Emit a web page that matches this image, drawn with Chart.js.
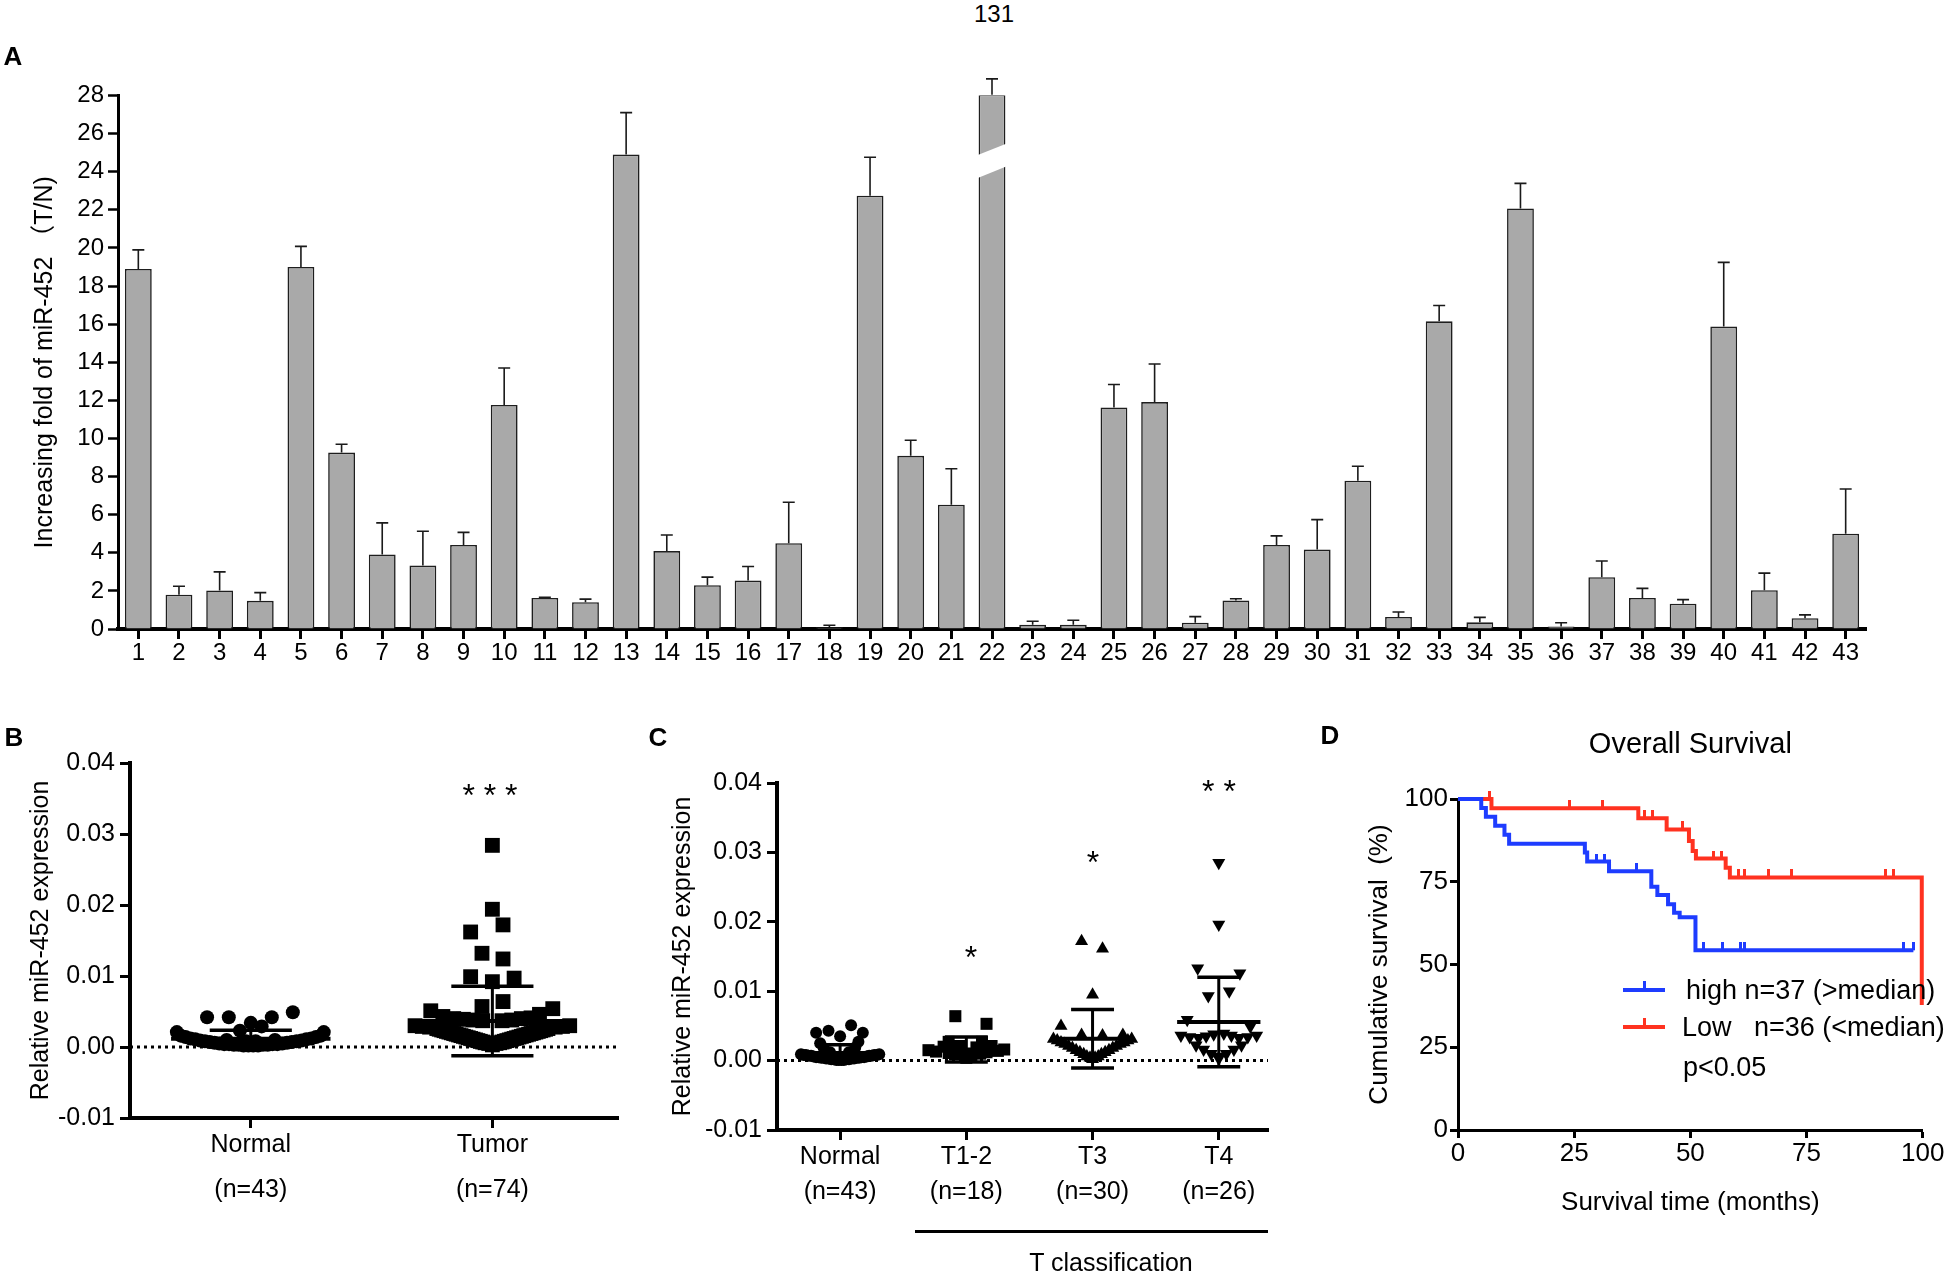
<!DOCTYPE html>
<html>
<head>
<meta charset="utf-8">
<title>miR-452 figure</title>
<script src="https://cdn.jsdelivr.net/npm/chart.js@4.4.1/dist/chart.umd.min.js"></script>
<style>
  html, body { margin: 0; padding: 0; background: #fff; }
  body { position: relative; width: 1946px; height: 1275px; overflow: hidden;
         font-family: "Liberation Sans", Arial, "Noto Sans CJK SC", sans-serif; color: #000; }
  canvas { position: absolute; }
  .lbl { position: absolute; white-space: pre; line-height: 1; transform: translate(-50%, -50%); }
  .lft { transform: translate(0, -50%); }
  .panel { font-weight: bold; font-size: 26px; }
  .star { font-size: 32px; }
  .bar { position: absolute; }
</style>
</head>
<body>
<canvas id="chartA" width="1946" height="630" style="left:0;top:70px"></canvas>
<canvas id="chartB" width="650" height="575" style="left:0;top:700px"></canvas>
<canvas id="chartC" width="650" height="575" style="left:650px;top:700px"></canvas>
<canvas id="chartD" width="646" height="575" style="left:1300px;top:700px"></canvas>

<div class="lbl" style="left:994px;top:14px;font-size:24px">131</div>
<div class="lbl panel" style="left:13px;top:56px">A</div>
<div class="lbl panel" style="left:14px;top:737px">B</div>
<div class="lbl panel" style="left:658px;top:737px">C</div>
<div class="lbl panel" style="left:1330px;top:735px">D</div>

<div class="lbl star" style="left:490px;top:795px">* * *</div>
<div class="lbl star" style="left:971px;top:957px">*</div>
<div class="lbl star" style="left:1093px;top:862px">*</div>
<div class="lbl star" style="left:1219px;top:791px">* *</div>

<div class="bar" style="left:915px;top:1230px;width:353px;height:3px;background:#000"></div>
<div class="lbl" style="left:1111px;top:1262px;font-size:25px">T classification</div>

<div class="bar" style="left:1623px;top:988px;width:42px;height:4px;background:#1e3cff"></div>
<div class="bar" style="left:1643px;top:981px;width:3px;height:8px;background:#1e3cff"></div>
<div class="bar" style="left:1623px;top:1025px;width:42px;height:4px;background:#ff3220"></div>
<div class="bar" style="left:1643px;top:1018px;width:3px;height:8px;background:#ff3220"></div>
<div class="lbl lft" style="left:1686px;top:990px;font-size:27px">high n=37 (&gt;median)</div>
<div class="lbl lft" style="left:1682px;top:1027px;font-size:27px">Low   n=36 (&lt;median)</div>
<div class="lbl lft" style="left:1683px;top:1067px;font-size:27px">p&lt;0.05</div>

<script>
// ---- Panel A: fold change per patient ----
const patientIds = ['1','2','3','4','5','6','7','8','9','10','11','12','13','14','15','16','17','18','19','20','21','22',
  '23','24','25','26','27','28','29','30','31','32','33','34','35','36','37','38','39','40','41','42','43'];
const foldMeans = [18.9, 1.8, 2.02, 1.48, 19.0, 9.26, 3.91, 3.33, 4.41, 11.76, 1.63, 1.41, 24.9, 4.09, 2.3, 2.54,
  4.5, 0.09, 22.74, 9.09, 6.52, 28.04, 0.22, 0.22, 11.63, 11.91, 0.33, 1.5, 4.41, 4.17, 7.78, 0.63, 16.15, 0.35,
  22.07, 0.13, 2.72, 1.63, 1.33, 15.87, 2.04, 0.57, 5.0];
const foldErrors = [1.0, 0.44, 0.98, 0.43, 1.08, 0.44, 1.66, 1.8, 0.66, 1.94, 0.04, 0.16, 2.2, 0.84, 0.42, 0.74,
  2.15, 0.11, 2.02, 0.82, 1.89, 0.83, 0.19, 0.24, 1.2, 2.0, 0.32, 0.09, 0.48, 1.57, 0.76, 0.26, 0.83, 0.26,
  1.32, 0.2, 0.85, 0.5, 0.21, 3.37, 0.89, 0.17, 2.35];
const brokenBar = 21;            // patient 22 has a broken bar
const breakLow = [23.65, 24.3];  // lower edge of the gap, left / right side
const breakHigh = [24.85, 25.5]; // upper edge of the gap

// ---- Panel B: normal vs tumor ----
const groupLabelsB = ['Normal', 'Tumor'];
const groupCountsB = ['(n=43)', '(n=74)'];
const normalOffsetB = [-0.181, -0.091, -0.045, 0, 0.045, 0.087, 0.174, -0.306, 0.302,
  -0.29, -0.27, -0.25, -0.23, -0.21, -0.19, -0.17, -0.15, -0.13, -0.11, -0.09, -0.07, -0.05, -0.03, -0.01,
  0.01, 0.03, 0.05, 0.07, 0.09, 0.11, 0.13, 0.15, 0.17, 0.19, 0.21, 0.23, 0.25, 0.27, 0.29, -0.02, 0.02, -0.1, 0.1];
const normalValB = [0.0042, 0.0042, 0.0023, 0.0034, 0.0029, 0.0042, 0.0049, 0.0021, 0.0021,
  0.0016, 0.0014, 0.0012, 0.0011, 0.0009, 0.0008, 0.0007, 0.0006, 0.0005, 0.0004, 0.0004, 0.0003, 0.0003, 0.0002, 0.0002,
  0.0002, 0.0002, 0.0003, 0.0003, 0.0004, 0.0004, 0.0005, 0.0006, 0.0007, 0.0008, 0.0009, 0.0011, 0.0012, 0.0014, 0.0016,
  0.0008, 0.0008, 0.001, 0.001];
const tumorOffsetB = [0, 0, 0.044, -0.09, -0.043, 0.044, -0.09, 0, 0.09, 0.044, -0.043, -0.255, 0.25, -0.205, 0.195,
  -0.16, -0.12, -0.08, -0.04, 0.04, 0.08, 0.12, 0.16,
  -0.32, -0.29, -0.26, 0.26, 0.29, 0.32,
  -0.23, -0.22, -0.21, -0.2, -0.19, -0.18, -0.17, -0.16, -0.15, -0.14, -0.13, -0.12, -0.11, -0.1, -0.09, -0.08,
  -0.07, -0.06, -0.05, -0.04, -0.03, -0.015, 0, 0.015, 0.03, 0.04, 0.05, 0.06, 0.07, 0.08, 0.09, 0.1, 0.11, 0.12,
  0.13, 0.14, 0.15, 0.16, 0.17, 0.18, 0.19, 0.2, 0.21, 0.22, 0.23];
const tumorValB = [0.0284, 0.0194, 0.0172, 0.0162, 0.0132, 0.0124, 0.0099, 0.0092, 0.0097, 0.0064, 0.0057, 0.0051, 0.0054, 0.0043, 0.0046,
  0.004, 0.0039, 0.0038, 0.0037, 0.0037, 0.0038, 0.004, 0.0041,
  0.003, 0.0029, 0.0028, 0.0028, 0.0029, 0.003,
  0.0026, 0.0025, 0.0024, 0.0023, 0.0022, 0.0021, 0.002, 0.0019, 0.0018, 0.0017, 0.0016, 0.0015, 0.0014, 0.0013, 0.0012, 0.0011,
  0.001, 0.0009, 0.0008, 0.0007, 0.0006, 0.0005, 0.0003, 0.0005, 0.0006, 0.0007, 0.0008, 0.0009, 0.001, 0.0011, 0.0012, 0.0013,
  0.0014, 0.0015, 0.0016, 0.0017, 0.0018, 0.0019, 0.002, 0.0021, 0.0022, 0.0023, 0.0024, 0.0025, 0.0026];
const groupMeansB = [0.00117, 0.00366];
const groupSdB = [0.00118, 0.0049];

// ---- Panel C: by T classification ----
const groupLabelsC = ['Normal', 'T1-2', 'T3', 'T4'];
const groupCountsC = ['(n=43)', '(n=18)', '(n=30)', '(n=26)'];
const normalOffsetC = [-0.19, -0.092, 0, 0.087, 0.18, -0.158, 0.145, -0.13, 0.12, -0.08, 0.07,
  -0.31, -0.29, -0.27, -0.25, -0.23, -0.21, -0.19, -0.17, -0.15, -0.13, -0.11, -0.09, -0.07, -0.05, -0.03, -0.01,
  0.01, 0.03, 0.05, 0.07, 0.09, 0.11, 0.13, 0.15, 0.17, 0.19, 0.21, 0.23, 0.25, 0.27, 0.29, 0.31];
const normalValC = [0.004, 0.0043, 0.0035, 0.0051, 0.004, 0.0025, 0.0027, 0.0018, 0.0019, 0.0012, 0.0012,
  0.0009, 0.0008, 0.0008, 0.0007, 0.0007, 0.0006, 0.0005, 0.0005, 0.0004, 0.0004, 0.0003, 0.0003, 0.0002, 0.0002, 0.0001, 0.0001,
  0.0001, 0.0001, 0.0002, 0.0002, 0.0003, 0.0003, 0.0004, 0.0004, 0.0005, 0.0005, 0.0006, 0.0007, 0.0007, 0.0008, 0.0008, 0.0009];
const t12OffsetC = [-0.087, 0.16, -0.14, 0.124, -0.3, -0.24, -0.18, -0.14, -0.09, -0.05, 0, 0.04, 0.08, 0.11, 0.16, 0.2, 0.25, 0.3];
const t12ValC = [0.0064, 0.0053, 0.0027, 0.0027, 0.0015, 0.0013, 0.002, 0.0011, 0.0009, 0.0021, 0.0004, 0.0007, 0.0019, 0.001, 0.0012, 0.0021, 0.0014, 0.0016];
const t3OffsetC = [-0.087, 0.079, 0, -0.25, -0.087, 0.079, 0.24,
  -0.31, -0.28, -0.25, -0.22, -0.19, -0.16, -0.13, -0.1, -0.07, -0.045, -0.02, 0, 0.02, 0.045, 0.07, 0.1, 0.13, 0.16, 0.19, 0.22, 0.25, 0.28, 0.31];
const t3ValC = [0.0172, 0.0161, 0.0095, 0.005, 0.0037, 0.0036, 0.0037,
  0.0031, 0.0029, 0.0026, 0.0024, 0.0021, 0.0018, 0.0015, 0.0012, 0.0009, 0.0006, 0.0004, 0.0002, 0.0004, 0.0006, 0.0009, 0.0012, 0.0015, 0.0018, 0.0021, 0.0024, 0.0026, 0.0029, 0.0031];
const t4OffsetC = [0, 0, -0.167, 0.167, -0.083, 0.083, -0.25, 0.25,
  -0.3, -0.23, -0.16, -0.1, -0.04, 0.04, 0.1, 0.16, 0.23, 0.3,
  -0.18, 0.18, -0.12, 0.12, -0.06, 0.06, 0, 0];
const t4ValC = [0.0285, 0.0196, 0.0133, 0.0126, 0.0093, 0.01, 0.0059, 0.0049,
  0.0036, 0.0034, 0.0033, 0.0035, 0.0038, 0.0039, 0.0036, 0.0033, 0.0034, 0.0036,
  0.0022, 0.0022, 0.0016, 0.0016, 0.001, 0.001, 0.0003, 0.0006];
const groupMeansC = [0.0011, 0.0016, 0.00315, 0.00555];
const groupSdC = [0.0012, 0.0018, 0.0042, 0.00645];

// ---- Panel D: Kaplan-Meier ----
const highTimes = [0, 5, 6, 8, 10, 11, 27.3, 27.8, 29.8, 31.6, 32.5, 38.4, 41.6, 42.9, 45.2, 46.5, 47.7, 51.1, 52.8, 56.9, 60.8, 61.7, 95.8, 98.0];
const highSurv = [100, 97.3, 94.6, 91.9, 89.2, 86.5, 83.8, 81.1, 81.1, 81.1, 78.2, 78.2, 73.5, 71.0, 68.2, 65.6, 64.3, 54.3, 54.3, 54.3, 54.3, 54.3, 54.3, 54.3];
const highCensored = [0, 0, 0, 0, 0, 0, 0, 0, 1, 1, 0, 1, 0, 0, 0, 0, 0, 0, 1, 1, 1, 1, 1, 1];
const lowTimes = [0, 6.8, 7.2, 24.1, 31.0, 38.8, 40.2, 41.9, 44.9, 48.3, 49.7, 50.5, 51.2, 54.9, 56.7, 57.6, 58.5, 60.3, 61.7, 66.8, 71.8, 91.9, 93.7, 99.8];
const lowSurv = [100, 100, 97.2, 97.2, 97.2, 94.2, 94.2, 94.2, 90.8, 90.8, 87.3, 84.3, 82.0, 82.0, 82.0, 79.2, 76.3, 76.3, 76.3, 76.3, 76.3, 76.3, 76.3, 37.8];
const lowCensored = [0, 1, 0, 1, 1, 0, 1, 1, 0, 1, 0, 0, 0, 1, 1, 0, 0, 1, 1, 1, 1, 1, 1, 0];

const BLUE = '#1e3cff';
const RED = '#ff3220';

Chart.defaults.font.family = '"Liberation Sans", Arial, "Noto Sans CJK SC", sans-serif';
Chart.defaults.color = '#000';
Chart.defaults.animation = false;
Chart.defaults.events = [];
Chart.defaults.plugins.legend.display = false;
Chart.defaults.plugins.tooltip.enabled = false;

function tickGrid(len, width) {
  return { drawOnChartArea: false, drawTicks: true, tickLength: len, tickWidth: width, tickColor: '#000' };
}

function toPoints(center, offsets, values) {
  return offsets.map((o, i) => ({ x: center + o, y: values[i] }));
}

// censor marker: small vertical tick sitting on top of the curve
function censorMark(color) {
  const c = document.createElement('canvas');
  c.width = 3; c.height = 16;
  const g = c.getContext('2d');
  g.fillStyle = color;
  g.fillRect(0, 0, 3, 8);
  return c;
}

const errorBars = {
  id: 'errorBars',
  afterDatasetsDraw(chart) {
    const { ctx, scales: { y } } = chart;
    const meta = chart.getDatasetMeta(0);
    ctx.save();
    ctx.strokeStyle = '#1a1a1a';
    ctx.lineWidth = 1.6;
    meta.data.forEach((bar, i) => {
      const top = y.getPixelForValue(foldMeans[i] + foldErrors[i]);
      ctx.beginPath();
      ctx.moveTo(bar.x, bar.y);
      ctx.lineTo(bar.x, top);
      ctx.moveTo(bar.x - 6, top);
      ctx.lineTo(bar.x + 6, top);
      ctx.stroke();
    });
    // white slanted gap for the axis break on patient 22
    const b = meta.data[brokenBar];
    const half = b.width / 2 + 2;
    ctx.fillStyle = '#fff';
    ctx.beginPath();
    ctx.moveTo(b.x - half, y.getPixelForValue(breakLow[0]));
    ctx.lineTo(b.x + half, y.getPixelForValue(breakLow[1]));
    ctx.lineTo(b.x + half, y.getPixelForValue(breakHigh[1]));
    ctx.lineTo(b.x - half, y.getPixelForValue(breakHigh[0]));
    ctx.closePath();
    ctx.fill();
    ctx.restore();
  }
};

function meanSd(means, sds) {
  return {
    id: 'meanSd',
    afterDatasetsDraw(chart) {
      const { ctx, scales: { x, y } } = chart;
      const seg = (x1, y1, x2, y2) => { ctx.beginPath(); ctx.moveTo(x1, y1); ctx.lineTo(x2, y2); ctx.stroke(); };
      ctx.save();
      ctx.strokeStyle = '#000';
      means.forEach((m, i) => {
        const c = i + 1;
        const ym = y.getPixelForValue(m);
        const yt = y.getPixelForValue(m + sds[i]);
        const yb = y.getPixelForValue(m - sds[i]);
        ctx.lineWidth = 4;
        seg(x.getPixelForValue(c - 0.33), ym, x.getPixelForValue(c + 0.33), ym);
        ctx.lineWidth = 3;
        seg(x.getPixelForValue(c), yt, x.getPixelForValue(c), yb);
        ctx.lineWidth = 3.5;
        seg(x.getPixelForValue(c - 0.17), yt, x.getPixelForValue(c + 0.17), yt);
        seg(x.getPixelForValue(c - 0.17), yb, x.getPixelForValue(c + 0.17), yb);
      });
      ctx.restore();
    }
  };
}

// ---- chart A ----
new Chart(document.getElementById('chartA'), {
  type: 'bar',
  data: {
    labels: patientIds,
    datasets: [{
      data: foldMeans,
      backgroundColor: '#a9a9a9',
      borderColor: '#1e1e1e',
      borderWidth: 1.6,
      barPercentage: 0.66,
      categoryPercentage: 1
    }]
  },
  options: {
    responsive: false,
    devicePixelRatio: 1,
    layout: { padding: { left: 18, right: 80, top: 25.5, bottom: 21 } },
    scales: {
      x: {
        grid: Object.assign(tickGrid(10, 3), { offset: false }),
        border: { color: '#000', width: 4 },
        ticks: { font: { size: 24 }, padding: 0, maxRotation: 0, autoSkip: false },
        afterFit: s => { s.height = 50; }
      },
      y: {
        min: 0, max: 28,
        ticks: { stepSize: 2, font: { size: 24 }, padding: 4 },
        grid: tickGrid(10, 2.5),
        border: { color: '#000', width: 3 },
        title: { display: true, text: 'Increasing fold of miR-452 （T/N)', font: { size: 25 }, padding: { top: 12, bottom: 0 } },
        afterFit: s => { s.width = 100; }
      }
    }
  },
  plugins: [errorBars]
});

// ---- chart B ----
new Chart(document.getElementById('chartB'), {
  type: 'scatter',
  data: {
    datasets: [
      { type: 'line', data: [{ x: 0.5, y: 0 }, { x: 2.52, y: 0 }], borderColor: '#000', borderWidth: 3,
        borderDash: [3, 4], pointRadius: 0, order: 10 },
      { data: toPoints(1, normalOffsetB, normalValB), pointStyle: 'circle', pointRadius: 7,
        backgroundColor: '#000', borderWidth: 0 },
      { data: toPoints(2, tumorOffsetB, tumorValB), pointStyle: 'rect', pointRadius: 10.5,
        backgroundColor: '#000', borderWidth: 0 }
    ]
  },
  options: {
    responsive: false,
    devicePixelRatio: 1,
    layout: { padding: { left: 20, right: 32, top: 63, bottom: 47 } },
    scales: {
      x: {
        type: 'linear', min: 0.5, max: 2.52,
        afterBuildTicks: s => { s.ticks = [{ value: 1 }, { value: 2 }]; },
        ticks: { callback: (v, i) => [groupLabelsB[i], groupCountsB[i]], font: { size: 25, lineHeight: 1.8 }, padding: -5.5 },
        grid: tickGrid(10, 3),
        border: { color: '#000', width: 4 },
        afterFit: s => { s.height = 110; }
      },
      y: {
        min: -0.01, max: 0.04,
        ticks: { stepSize: 0.01, callback: v => v.toFixed(2), font: { size: 25 }, padding: 5 },
        grid: tickGrid(10, 3),
        border: { color: '#000', width: 4 },
        title: { display: true, text: 'Relative miR-452 expression', font: { size: 25 }, padding: { top: 6, bottom: 0 } },
        afterFit: s => { s.width = 110; }
      }
    }
  },
  plugins: [meanSd(groupMeansB, groupSdB)]
});

// ---- chart C ----
new Chart(document.getElementById('chartC'), {
  type: 'scatter',
  data: {
    datasets: [
      { type: 'line', data: [{ x: 0.5, y: 0 }, { x: 4.39, y: 0 }], borderColor: '#000', borderWidth: 3,
        borderDash: [3, 4], pointRadius: 0, order: 10 },
      { data: toPoints(1, normalOffsetC, normalValC), pointStyle: 'circle', pointRadius: 6,
        backgroundColor: '#000', borderWidth: 0 },
      { data: toPoints(2, t12OffsetC, t12ValC), pointStyle: 'rect', pointRadius: 8.5,
        backgroundColor: '#000', borderWidth: 0 },
      { data: toPoints(3, t3OffsetC, t3ValC), pointStyle: 'triangle', pointRadius: 7.5,
        backgroundColor: '#000', borderWidth: 0 },
      { data: toPoints(4, t4OffsetC, t4ValC), pointStyle: 'triangle', rotation: 180, pointRadius: 7.5,
        backgroundColor: '#000', borderWidth: 0 }
    ]
  },
  options: {
    responsive: false,
    devicePixelRatio: 1,
    layout: { padding: { left: 17, right: 32, top: 83, bottom: 25 } },
    scales: {
      x: {
        type: 'linear', min: 0.5, max: 4.39,
        afterBuildTicks: s => { s.ticks = [{ value: 1 }, { value: 2 }, { value: 3 }, { value: 4 }]; },
        ticks: { callback: (v, i) => [groupLabelsC[i], groupCountsC[i]], font: { size: 25, lineHeight: 1.4 }, padding: -0.5 },
        grid: tickGrid(10, 3),
        border: { color: '#000', width: 4 },
        afterFit: s => { s.height = 120; }
      },
      y: {
        min: -0.01, max: 0.04,
        ticks: { stepSize: 0.01, callback: v => v.toFixed(2), font: { size: 25 }, padding: 5 },
        grid: tickGrid(10, 3),
        border: { color: '#000', width: 4 },
        title: { display: true, text: 'Relative miR-452 expression', font: { size: 25 }, padding: { top: 1, bottom: 0 } },
        afterFit: s => { s.width = 110; }
      }
    }
  },
  plugins: [meanSd(groupMeansC, groupSdC)]
});

// ---- chart D ----
function kmSeries(times, surv) {
  return times.map((t, i) => ({ x: t, y: surv[i] }));
}
new Chart(document.getElementById('chartD'), {
  type: 'line',
  data: {
    datasets: [
      { label: 'high n=37 (>median)', data: kmSeries(highTimes, highSurv), stepped: true, borderColor: BLUE,
        borderWidth: 4, fill: false, pointStyle: censorMark(BLUE), pointRadius: highCensored.map(c => c ? 5 : 0),
        clip: false, order: 0 },
      { label: 'Low n=36 (<median)', data: kmSeries(lowTimes, lowSurv), stepped: true, borderColor: RED,
        borderWidth: 4, fill: false, pointStyle: censorMark(RED), pointRadius: lowCensored.map(c => c ? 5 : 0),
        clip: false, order: 1 }
    ]
  },
  options: {
    responsive: false,
    devicePixelRatio: 1,
    layout: { padding: { left: 50, right: 23.3, top: 10, bottom: 45 } },
    plugins: {
      title: { display: true, text: 'Overall Survival', fullSize: false, font: { size: 29, weight: 'normal' },
        color: '#000', padding: { top: 17.6, bottom: 36.6 } }
    },
    scales: {
      x: {
        type: 'linear', min: 0, max: 100,
        ticks: { stepSize: 25, font: { size: 26 }, padding: 0 },
        grid: tickGrid(8, 3),
        border: { color: '#000', width: 3 },
        title: { display: true, text: 'Survival time (months)', font: { size: 26 }, padding: { top: 0, bottom: 11.4 } },
        afterFit: s => { s.height = 100; }
      },
      y: {
        min: 0, max: 100,
        ticks: { stepSize: 25, font: { size: 26 }, padding: 2 },
        grid: tickGrid(8, 3),
        border: { color: '#000', width: 3 },
        title: { display: true, text: 'Cumulative survival  (%)', font: { size: 26 }, padding: { top: 14.4, bottom: 0 } },
        afterFit: s => { s.width = 108; }
      }
    }
  }
});
</script>
</body>
</html>
